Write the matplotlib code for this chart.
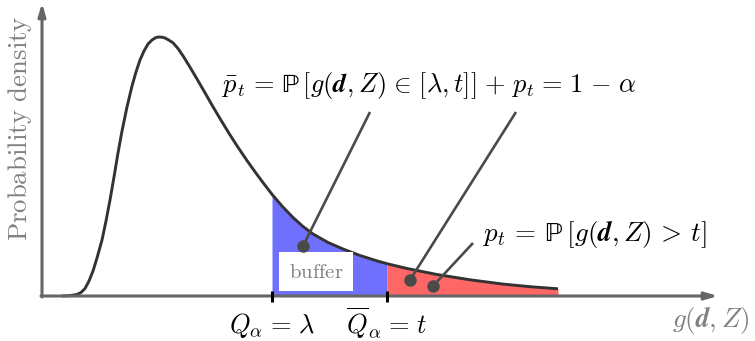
import numpy as np
import matplotlib
matplotlib.use("Agg")
import matplotlib.pyplot as plt

plt.rcParams['mathtext.fontset'] = 'cm'

# density curve (x in axis units, y in density units)
x_vals = [0.20, 0.28, 0.35, 0.39, 0.43, 0.47, 0.51, 0.55, 0.60, 0.64, 0.68, 0.72,
          0.76, 0.80, 0.85, 0.90, 0.94, 0.98, 1.02, 1.06, 1.10, 1.14, 1.17, 1.20,
          1.23, 1.27, 1.31, 1.36, 1.41, 1.48, 1.55, 1.63, 1.71, 1.79, 1.88, 1.96,
          2.05, 2.13, 2.21, 2.30, 2.40, 2.51, 2.61, 2.71, 2.86, 3.01, 3.18, 3.35,
          3.45, 3.65, 3.95, 4.28, 4.61, 4.88, 5.16]
y_vals = [0.000, 0.004, 0.015, 0.035, 0.075, 0.150, 0.250, 0.380, 0.560, 0.750, 0.960, 1.190,
          1.430, 1.650, 1.890, 2.100, 2.240, 2.360, 2.450, 2.520, 2.560, 2.585, 2.590, 2.588,
          2.580, 2.558, 2.532, 2.475, 2.402, 2.288, 2.170, 2.032, 1.892, 1.758, 1.611, 1.487,
          1.354, 1.242, 1.134, 1.017, 0.900, 0.785, 0.695, 0.620, 0.535, 0.470, 0.405, 0.351,
          0.323, 0.275, 0.215, 0.162, 0.119, 0.093, 0.072]
lam = 2.30
t_thr = 3.45

S = r'\hspace{0.12}'
S2 = r'\hspace{0.16}'
label_lam = r'$Q_\alpha ' + S + '=' + S + r' \lambda$'
label_t = r'$\overline{Q}_\alpha ' + S + '=' + S + r' t$'
text_pbar = (r'$\bar{p}_t ' + S + '=' + S + r' \mathrm{\mathbb{P}}\,[g(\boldsymbol{d}, Z) ' + S + r'\in' + S +
             r' [\lambda, t]] ' + S + '+' + S + r' p_t ' + S + '=' + S + ' 1 ' + S + '-' + S + r' \alpha$')
text_p = (r'$p_t ' + S2 + '=' + S2 + r' \mathrm{\mathbb{P}}\,[g(\boldsymbol{d}, Z) ' + S2 + '>' + S2 + ' t]$')
xlabel = r'$g(\boldsymbol{d}, Z)$'
ylabel = r'$\mathrm{Probability\ density}$'
buffer_label = r'$\mathrm{buffer}$'

x = np.array(x_vals)
y = np.array(y_vals)

fig = plt.figure(figsize=(7.55, 3.41), dpi=100)
ax = fig.add_axes([0, 0, 1, 1])
ax.set_xlim(-0.42, 7.13)
ax.set_ylim(-0.45, 2.96)
ax.axis('off')

axis_col = '#666666'
# fills
m1 = (x >= lam) & (x <= t_thr)
m2 = x >= t_thr
ax.fill_between(x[m1], 0, y[m1], color='#7070ff', lw=0, zorder=1)
ax.fill_between(x[m2], 0, y[m2], color='#ff6666', lw=0, zorder=1)

# curve
ax.plot(x, y, color='#333333', lw=2.1, zorder=3, solid_capstyle='butt',
        solid_joinstyle='round')

# axes arrows
ax.annotate('', xy=(6.76, 0), xytext=(-0.01, 0),
            arrowprops=dict(arrowstyle='-|>,head_length=0.75,head_width=0.22',
                            color=axis_col, lw=2.2, shrinkA=0, shrinkB=0), zorder=4)
ax.annotate('', xy=(0, 2.93), xytext=(0, -0.01),
            arrowprops=dict(arrowstyle='-|>,head_length=0.75,head_width=0.22',
                            color=axis_col, lw=2.2, shrinkA=0, shrinkB=0), zorder=4)

# ticks
for xv in (lam, t_thr):
    ax.plot([xv, xv], [-0.06, 0.05], color='black', lw=2.2, zorder=5, solid_capstyle='butt')

# buffer box
ax.text(2.74, 0.245, buffer_label, fontsize=15, color='#808080', ha='center', va='center',
        zorder=6, bbox=dict(boxstyle='square,pad=0.45', fc='white', ec='none'))

# annotation lines with dots
ann_col = '#4a4a4a'
for (x0, y0), (x1, y1) in [((2.61, 0.50), (3.28, 1.84)),
                           ((3.68, 0.16), (4.74, 1.84)),
                           ((3.91, 0.10), (4.31, 0.53))]:
    ax.plot([x0, x1], [y0, y1], color=ann_col, lw=1.9, zorder=7, solid_capstyle='butt')
    ax.plot([x0], [y0], 'o', color=ann_col, ms=8, zorder=7)

ax.text(1.80, 2.11, text_pbar, fontsize=19, ha='left', va='center', color='black')
ax.text(4.41, 0.62, text_p, fontsize=19.5, ha='left', va='center', color='black')

ax.text(lam, -0.29, label_lam, fontsize=19, ha='center', va='center')
ax.text(t_thr, -0.27, label_t, fontsize=19, ha='center', va='center')

ax.text(6.69, -0.24, xlabel, fontsize=19.5, ha='center', va='center', color='#808080')
ax.text(-0.22, 1.68, ylabel, fontsize=19.3, ha='center', va='center', color='#808080',
        rotation=90)

fig.savefig('out.png', dpi=100)
